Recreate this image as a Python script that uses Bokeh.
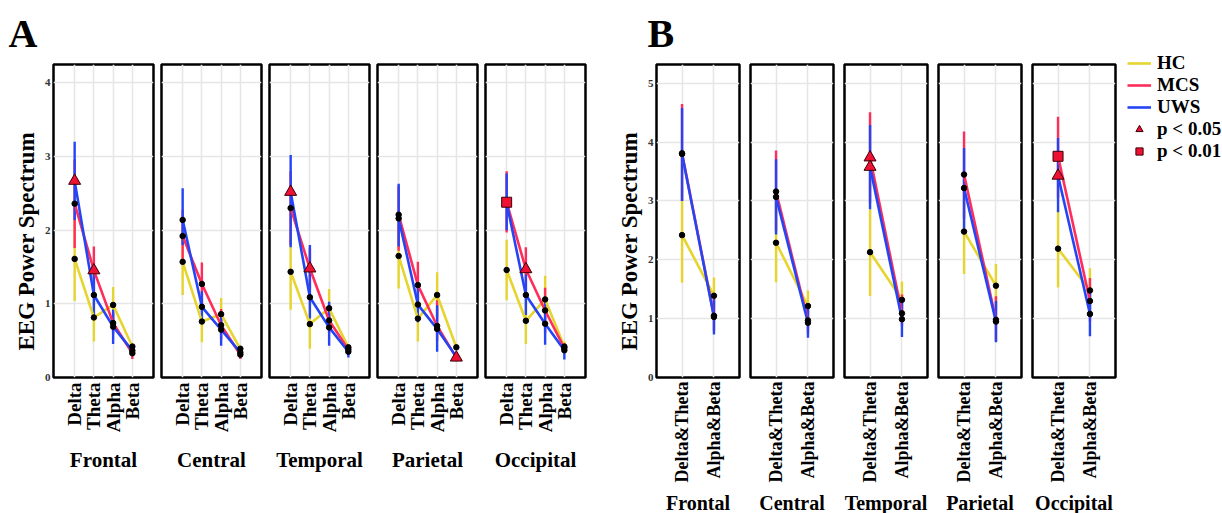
import math
from bokeh.plotting import figure
from bokeh.models import (FactorRange, Range1d, FixedTicker, Legend, LegendItem,
                          Title, ColumnDataSource)
from bokeh.layouts import row
from bokeh.embed import file_html
from bokeh.resources import INLINE

FONT = "Liberation Serif"

regions = ["Frontal", "Central", "Temporal", "Parietal", "Occipital"]
groups = ["HC", "MCS", "UWS"]
group_colors = ["#E6D52E", "#FF2D5A", "#2545F5"]

# ---------------- Panel A: four frequency bands ----------------
bands_A = ["Delta", "Theta", "Alpha", "Beta"]
yticks_A = [0, 1, 2, 3, 4]

hc_A_mean = [[1.61, 0.815, 0.985, 0.42], [1.57, 0.76, 0.86, 0.39], [1.435, 0.725, 0.94, 0.41],
             [1.65, 0.80, 1.12, 0.41], [1.46, 0.77, 1.06, 0.42]]
hc_A_low = [[1.04, 0.49, 0.74, 0.37], [1.12, 0.48, 0.64, 0.35], [0.92, 0.39, 0.70, 0.37],
            [1.21, 0.49, 0.82, 0.38], [1.05, 0.455, 0.80, 0.37]]
hc_A_high = [[2.18, 1.14, 1.23, 0.47], [2.02, 1.04, 1.08, 0.43], [1.95, 1.06, 1.20, 0.45],
             [2.09, 1.11, 1.43, 0.44], [1.87, 1.08, 1.38, 0.49]]

mcs_A_mean = [[2.36, 1.455, 0.74, 0.33], [1.92, 1.27, 0.71, 0.31], [2.30, 1.48, 0.775, 0.38],
              [2.21, 1.255, 0.70, 0.27], [2.38, 1.47, 0.91, 0.40]]
mcs_A_low = [[1.76, 1.12, 0.60, 0.25], [1.56, 0.98, 0.52, 0.25], [1.80, 1.20, 0.60, 0.32],
             [1.72, 0.94, 0.50, 0.22], [1.97, 1.17, 0.60, 0.33]]
mcs_A_high = [[2.96, 1.78, 0.88, 0.41], [2.28, 1.56, 0.93, 0.37], [2.80, 1.76, 0.95, 0.44],
              [2.60, 1.57, 1.05, 0.32], [2.80, 1.77, 1.22, 0.47]]

uws_A_mean = [[2.67, 1.12, 0.69, 0.365], [2.14, 0.96, 0.65, 0.34], [2.52, 1.09, 0.68, 0.35],
              [2.16, 0.99, 0.66, 0.28], [2.37, 1.12, 0.73, 0.37]]
uws_A_low = [[2.14, 0.85, 0.455, 0.31], [1.80, 0.75, 0.43, 0.30], [1.77, 0.80, 0.43, 0.27],
             [1.78, 0.75, 0.35, 0.24], [2.00, 0.85, 0.445, 0.245]]
uws_A_high = [[3.20, 1.40, 0.925, 0.42], [2.57, 1.17, 0.87, 0.38], [3.02, 1.80, 1.03, 0.42],
              [2.63, 1.22, 0.98, 0.32], [2.77, 1.40, 1.02, 0.45]]

sig_A_region = ["Frontal", "Frontal", "Temporal", "Temporal", "Parietal", "Occipital", "Occipital"]
sig_A_band = ["Delta", "Theta", "Delta", "Theta", "Beta", "Delta", "Theta"]
sig_A_group = ["UWS", "MCS", "UWS", "MCS", "MCS", "MCS", "MCS"]
sig_A_level = ["p < 0.05", "p < 0.05", "p < 0.05", "p < 0.05", "p < 0.05", "p < 0.01", "p < 0.05"]

# ---------------- Panel B: merged bands ----------------
bands_B = ["Delta&Theta", "Alpha&Beta"]
yticks_B = [0, 1, 2, 3, 4, 5]

hc_B_mean = [[2.42, 1.39], [2.29, 1.215], [2.13, 1.32], [2.48, 1.56], [2.19, 1.48]]
hc_B_low = [[1.61, 1.08], [1.62, 0.95], [1.385, 1.00], [1.76, 1.20], [1.53, 1.11]]
hc_B_high = [[3.23, 1.70], [2.96, 1.48], [2.86, 1.63], [3.20, 1.93], [2.85, 1.855]]

mcs_B_mean = [[3.81, 1.05], [3.16, 0.97], [3.74, 1.09], [3.45, 0.98], [3.76, 1.30]]
mcs_B_low = [[3.00, 0.80], [2.50, 0.75], [2.97, 0.88], [2.70, 0.62], [3.05, 0.95]]
mcs_B_high = [[4.65, 1.36], [3.86, 1.20], [4.51, 1.41], [4.18, 1.38], [4.43, 1.69]]

uws_B_mean = [[3.80, 1.03], [3.07, 0.93], [3.58, 0.99], [3.22, 0.95], [3.43, 1.08]]
uws_B_low = [[3.00, 0.73], [2.43, 0.675], [2.86, 0.69], [2.53, 0.60], [2.81, 0.70]]
uws_B_high = [[4.58, 1.33], [3.71, 1.19], [4.29, 1.28], [3.90, 1.30], [4.07, 1.45]]

sig_B_region = ["Temporal", "Temporal", "Occipital", "Occipital"]
sig_B_band = ["Delta&Theta", "Delta&Theta", "Delta&Theta", "Delta&Theta"]
sig_B_group = ["MCS", "UWS", "MCS", "UWS"]
sig_B_level = ["p < 0.05", "p < 0.05", "p < 0.01", "p < 0.05"]

GRID = "#E6E6E6"


def build(letter, bands, y_end, yticks, means, lows, highs, sig, ri, frame_w,
          bl, br, tick_fs, tick_standoff, grp_fs, grp_standoff, pad, title_offset):
    region = regions[ri]
    first = ri == 0
    p = figure(x_range=FactorRange(factors=bands, range_padding=pad,
                                   range_padding_units="absolute"),
               y_range=Range1d(0, y_end), frame_width=frame_w, frame_height=313,
               min_border_left=bl, min_border_right=br, min_border_top=64,
               min_border_bottom=0, toolbar_location=None, output_backend="svg",
               y_axis_location="left" if first else None,
               background_fill_color="white", border_fill_color="white")
    p.outline_line_color = "black"
    p.outline_line_width = 2.5
    p.ygrid.ticker = FixedTicker(ticks=yticks)
    for g in (p.xgrid, p.ygrid):
        g.grid_line_color = GRID
        g.grid_line_width = 1.6

    ax = p.xaxis[0]
    ax.major_label_orientation = math.pi / 2
    ax.axis_line_color = None
    ax.major_tick_line_color = None
    ax.major_tick_out = 0
    ax.major_tick_in = 0
    ax.major_label_standoff = tick_standoff
    ax.major_label_text_font = FONT
    ax.major_label_text_font_style = "bold"
    ax.major_label_text_font_size = tick_fs
    ax.major_label_text_color = "black"
    ax.axis_label = region
    ax.axis_label_text_font = FONT
    ax.axis_label_text_font_style = "bold"
    ax.axis_label_text_font_size = grp_fs
    ax.axis_label_text_color = "black"
    ax.axis_label_standoff = grp_standoff

    if first:
        ya = p.yaxis[0]
        ya.ticker = FixedTicker(ticks=yticks)
        ya.axis_line_color = None
        ya.major_tick_line_color = None
        ya.minor_tick_line_color = None
        ya.major_tick_out = 0
        ya.major_tick_in = 0
        ya.major_label_standoff = 3
        ya.major_label_text_font = FONT
        ya.major_label_text_font_style = "bold"
        ya.major_label_text_font_size = "11px"
        ya.major_label_text_color = "#333333"
        ylab = Title(text="EEG Power Spectrum", align="left", offset=27, standoff=5,
                     text_font=FONT, text_font_style="bold", text_font_size="23px",
                     text_color="black")
        p.add_layout(ylab, "left")
        p.title.text = letter
        p.title.text_font = FONT
        p.title.text_font_style = "bold"
        p.title.text_font_size = "40px"
        p.title.text_color = "black"
        p.title.align = "left"
        p.title.offset = title_offset
        p.title.standoff = 17

    sources = []
    for gi, g in enumerate(groups):
        sources.append(ColumnDataSource(dict(x=bands, y=means[gi][ri],
                                             lo=lows[gi][ri], hi=highs[gi][ri])))
    # error bars
    for gi, g in enumerate(groups):
        p.segment(x0="x", y0="lo", x1="x", y1="hi", source=sources[gi],
                  line_color=group_colors[gi], line_width=2.4)
    # lines
    line_r = {}
    for gi, g in enumerate(groups):
        line_r[g] = p.line("x", "y", source=sources[gi], line_color=group_colors[gi],
                           line_width=2.6)
    # mean points
    for gi, g in enumerate(groups):
        p.scatter("x", "y", source=sources[gi], size=5.5, fill_color="black",
                  line_color="black")
    # significance markers
    s_reg, s_band, s_grp, s_lvl = sig
    tri = dict(x=[], y=[])
    sq = dict(x=[], y=[])
    for r, b, g, l in zip(s_reg, s_band, s_grp, s_lvl):
        if r != region:
            continue
        gi = groups.index(g)
        yv = means[gi][ri][bands.index(b)]
        d = sq if l == "p < 0.01" else tri
        d["x"].append(b)
        d["y"].append(yv)
    tri_r = p.scatter("x", "y", source=ColumnDataSource(tri), marker="triangle", size=12,
                      fill_color="#EE1133", line_color="#3A0008", line_width=1)
    sq_r = p.scatter("x", "y", source=ColumnDataSource(sq), marker="square", size=10,
                     fill_color="#EE1133", line_color="#3A0008", line_width=1)
    return p, line_r, tri_r, sq_r


figs = []
A_means = [hc_A_mean, mcs_A_mean, uws_A_mean]
A_lows = [hc_A_low, mcs_A_low, uws_A_low]
A_highs = [hc_A_high, mcs_A_high, uws_A_high]
sigA = (sig_A_region, sig_A_band, sig_A_group, sig_A_level)
for ri in range(5):
    p, _, _, _ = build("A", bands_A, 4.25, yticks_A, A_means, A_lows, A_highs, sigA, ri,
                       100, 53 if ri == 0 else 4, 4, "19px", 5, "21px", 13, 0.6, -45)
    figs.append(p)

B_means = [hc_B_mean, mcs_B_mean, uws_B_mean]
B_lows = [hc_B_low, mcs_B_low, uws_B_low]
B_highs = [hc_B_high, mcs_B_high, uws_B_high]
sigB = (sig_B_region, sig_B_band, sig_B_group, sig_B_level)
for ri in range(5):
    p, line_r, tri_r, sq_r = build("B", bands_B, 5.32, yticks_B, B_means, B_lows, B_highs,
                                   sigB, ri, 83, 67 if ri == 0 else 6,
                                   107 if ri == 4 else 5, "18px", 4, "20px", 7, 0.3, -9)
    if ri == 4:
        legend = Legend(items=[LegendItem(label="HC", renderers=[line_r["HC"]]),
                               LegendItem(label="MCS", renderers=[line_r["MCS"]]),
                               LegendItem(label="UWS", renderers=[line_r["UWS"]]),
                               LegendItem(label="p < 0.05", renderers=[tri_r]),
                               LegendItem(label="p < 0.01", renderers=[sq_r])],
                        location=(12, 215), margin=0, padding=0, spacing=0,
                        glyph_width=24, glyph_height=18, label_standoff=6,
                        label_height=18, label_text_font=FONT,
                        label_text_font_style="bold", label_text_font_size="19px",
                        label_text_color="black", border_line_color=None,
                        background_fill_alpha=0)
        p.add_layout(legend, "right")
    figs.append(p)

layout = row(*figs, spacing=0)
open("out.html", "w").write(file_html(layout, INLINE))
